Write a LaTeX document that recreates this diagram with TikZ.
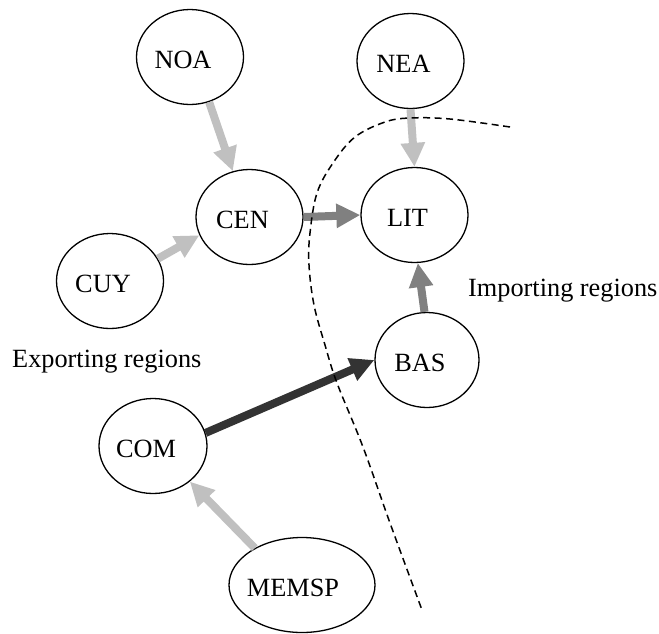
\documentclass[tikz,border=0pt]{standalone}
\usepackage{fontspec}
\setmainfont{Liberation Serif}
\usetikzlibrary{arrows.meta,shapes.geometric}

\definecolor{flowlight}{HTML}{C0C0C0}
\definecolor{flowmid}{HTML}{808080}
\definecolor{flowdark}{HTML}{333333}

\tikzset{
  region/.style={draw=black, line width=1.3pt, ellipse, inner sep=0pt,
    minimum width=107pt, minimum height=95pt,
    text height=23pt, text depth=0pt,
    font=\fontsize{26.3}{30}\selectfont,
    execute at begin node={\hspace*{-14pt}}},
  caption/.style={inner sep=0pt, anchor=base west, font=\fontsize{26.3}{30}\selectfont},
  flow/.style={line width=8pt, -{Triangle[length=24pt,width=23pt]}},
  border/.style={line width=1.5pt, dash pattern=on 7pt off 4.5pt}
}

\begin{document}
\begin{tikzpicture}[x=1pt, y=-1pt]
  \useasboundingbox (0,0) rectangle (659,633);

  % regions
  \node[region] (NOA)   at (190,57)    {NOA};
  \node[region] (NEA)   at (410.5,61)  {NEA};
  \node[region] (CEN)   at (249.5,217) {CEN};
  \node[region] (LIT)   at (414.5,215) {LIT};
  \node[region] (CUY)   at (110,281)   {CUY};
  \node[region, minimum width=104pt] (BAS) at (427,360) {BAS};
  \node[region, minimum width=108pt] (COM) at (153,446) {COM};
  \node[region, minimum width=146pt, execute at begin node={\hspace*{-4pt}}] (MEMSP) at (302,585) {MEMSP};

  % group captions
  \node[caption] (imp) at (468,296) {Importing regions};
  \node[caption] (exp) at (12,367)  {Exporting regions};

  % flows
  \draw[flow, flowlight] (NOA.-67)   -- (CEN.110);
  \draw[flow, flowlight] (CUY.25)    -- (CEN.200);
  \draw[flow, flowlight] (NEA.south) -- (LIT.north);
  \draw[flow, flowmid]   (CEN.east)  -- (LIT.west);
  \draw[flow, flowmid]   (BAS.93)    -- (LIT.-86);
  \draw[flow, flowdark]  (COM.14)    -- (BAS.west);
  \draw[flow, flowlight] (MEMSP.142) -- (COM.-44);

  % dividing line between the two groups
  \draw[border] plot[smooth, tension=0.6] coordinates {
    (510,127) (450,119) (410,118) (385,122) (355,137) (333,163)
    (317,193) (310,233) (309,265) (314,305) (325,345) (337,383)
    (363,447) (390,523) (422,610)};
\end{tikzpicture}
\end{document}
